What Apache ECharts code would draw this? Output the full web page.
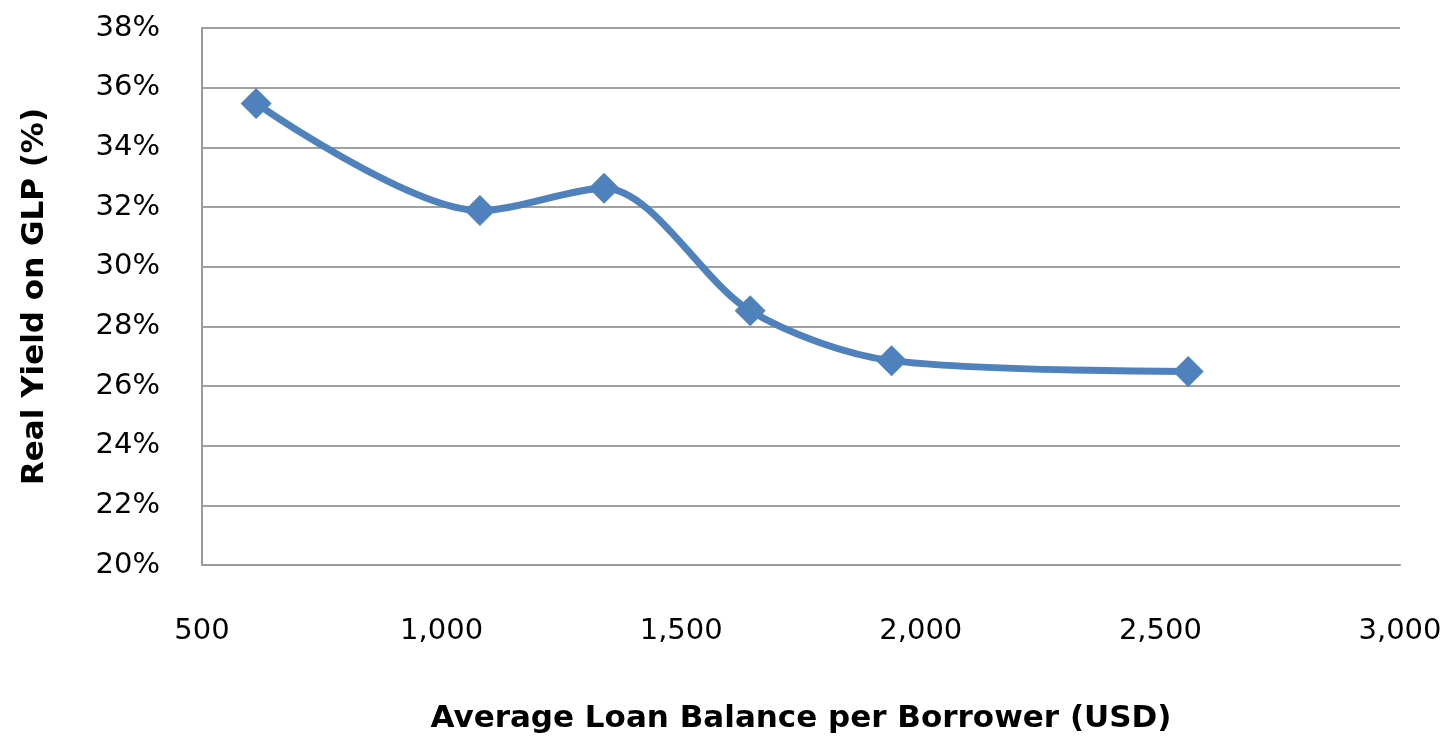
<!DOCTYPE html>
<html>
<head>
<meta charset="utf-8">
<script src="https://cdn.jsdelivr.net/npm/echarts@6/dist/echarts.min.js"></script>
<style>
html,body{margin:0;padding:0;background:#fff;}
#chart{width:1452px;height:739px;}
</style>
</head>
<body>
<div id="chart"></div>
<script>
const loanBalance = [613, 1080, 1339, 1644, 1939, 2558];
const realYield = [35.47, 31.88, 32.63, 28.52, 26.85, 26.49];
const xTitle = 'Average Loan Balance per Borrower (USD)';
const yTitle = 'Real Yield on GLP (%)';

const chart = echarts.init(document.getElementById('chart'), null, {renderer: 'canvas'});
const font = 'DejaVu Sans';
chart.setOption({
  animation: false,
  grid: {left: 202, right: 52, top: 28, bottom: 172, containLabel: false},
  xAxis: {
    type: 'value', min: 500, max: 3000, interval: 500,
    name: xTitle, nameLocation: 'middle', nameGap: 138,
    nameTextStyle: {fontFamily: font, fontWeight: 'bold', fontSize: 31, color: '#000'},
    axisLine: {show: true, lineStyle: {color: '#9a9a9a', width: 2}},
    axisTick: {show: false},
    splitLine: {show: false},
    axisLabel: {
      fontFamily: font, fontSize: 29, color: '#000', margin: 52,
      formatter: v => v.toLocaleString('en-US')
    }
  },
  yAxis: {
    type: 'value', min: 20, max: 38, interval: 2,
    name: yTitle, nameLocation: 'middle', nameGap: 152,
    nameTextStyle: {fontFamily: font, fontWeight: 'bold', fontSize: 31, color: '#000'},
    axisLine: {show: true, lineStyle: {color: '#9a9a9a', width: 2}},
    axisTick: {show: false},
    splitLine: {show: true, lineStyle: {color: '#a0a0a0', width: 2}},
    axisLabel: {
      fontFamily: font, fontSize: 29, color: '#000', margin: 42,
      formatter: v => v + '%'
    }
  },
  series: [{
    type: 'line',
    data: loanBalance.map((x, i) => [x, realYield[i]]),
    smooth: 0.3,
    symbol: 'diamond',
    symbolSize: 31,
    lineStyle: {color: '#4F81BD', width: 7},
    itemStyle: {color: '#4F81BD'}
  }]
});
</script>
</body>
</html>
